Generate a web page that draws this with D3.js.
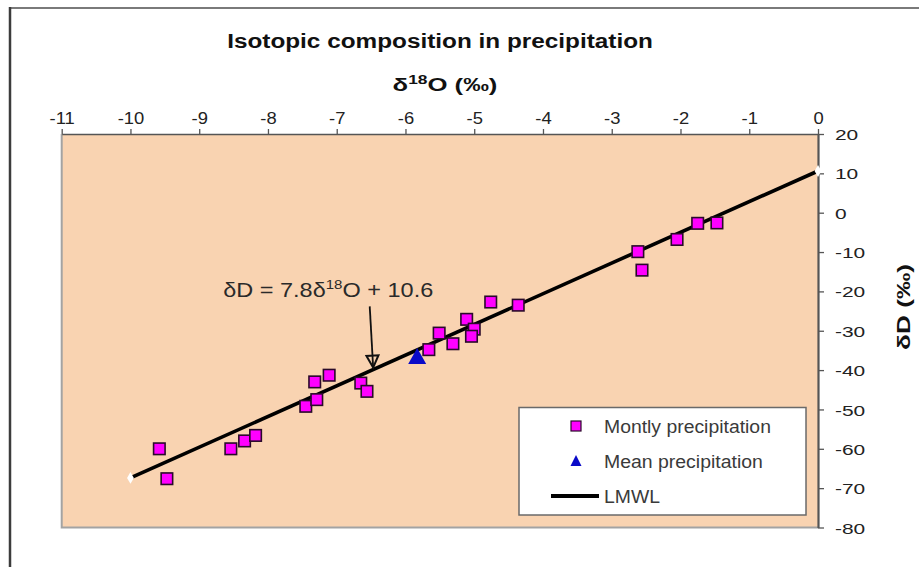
<!DOCTYPE html>
<html>
<head>
<meta charset="utf-8">
<script src="https://cdn.jsdelivr.net/npm/d3@7"></script>
<style>
  body { margin: 0; background: #fff; }
  svg { display: block; font-family: "Liberation Sans", Arial, sans-serif; }
</style>
</head>
<body>
<svg id="chart" width="919" height="567"></svg>
<script>
// Axis ticks
const xTicks = [-11, -10, -9, -8, -7, -6, -5, -4, -3, -2, -1, 0];
const yTicks = [20, 10, 0, -10, -20, -30, -40, -50, -60, -70, -80];

// Monthly precipitation samples (δ18O, δD in ‰)
const monthlyO18 = [-9.58, -9.47, -8.54, -8.34, -8.18, -7.45, -7.29, -7.32, -7.11, -6.65, -6.56,
                    -5.66, -5.51, -5.31, -5.11, -5.00, -5.04, -4.76, -4.36, -2.62, -2.56, -2.05, -1.75, -1.47];
const monthlyD   = [-60.0, -67.6, -60.0, -58.0, -56.6, -49.2, -47.5, -43.0, -41.3, -43.3, -45.4,
                    -34.8, -30.6, -33.3, -27.1, -29.6, -31.4, -22.7, -23.5, -9.9, -14.6, -6.8, -2.7, -2.6];

// Weighted mean of precipitation
const meanO18 = [-5.83];
const meanD   = [-36.7];

// Local meteoric water line: δD = 7.8 δ18O + 10.6
const lmwlSlope = 7.8;
const lmwlIntercept = 10.6;
const lmwlO18 = [-10, 0];

const legendLabels = ["Montly precipitation", "Mean precipitation", "LMWL"];

const svg = d3.select("#chart");

// Outer chart frame
svg.append("line").attr("x1", 10).attr("y1", 8).attr("x2", 919).attr("y2", 8)
  .attr("stroke", "#7a7a7a").attr("stroke-width", 2);
svg.append("line").attr("x1", 10).attr("y1", 7).attr("x2", 10).attr("y2", 567)
  .attr("stroke", "#3c3c3c").attr("stroke-width", 2.5);

const pLeft = 61.7, pRight = 818, pTop = 134, pBottom = 527.5;
const x = d3.scaleLinear().domain([-11, 0]).range([pLeft, pRight]);
const y = d3.scaleLinear().domain([-80, 20]).range([pBottom, pTop]);

// Plot area
svg.append("rect").attr("x", pLeft).attr("y", pTop)
  .attr("width", pRight - pLeft).attr("height", pBottom - pTop)
  .attr("fill", "#f9d3b1");
svg.append("path")
  .attr("d", `M${pLeft},${pTop} V${pBottom} H${pRight}`)
  .attr("fill", "none").attr("stroke", "#a3a3a3").attr("stroke-width", 2);

// Stretch a text node horizontally to a given width about an anchor x
function fitWidth(sel, width, ax) {
  const w = sel.node().getBBox().width;
  const s = width / w;
  sel.attr("transform", `translate(${ax},0) scale(${s},1) translate(${-ax},0)`);
}

// Tick labels use a plain hyphen for negatives
const tickFmt = d => String(d);

// Top axis: δ18O
const xAxis = svg.append("g").attr("transform", `translate(0,${pTop})`)
  .call(d3.axisTop(x).tickValues(xTicks).tickFormat(tickFmt).tickSize(5).tickPadding(5).tickSizeOuter(0));
xAxis.select(".domain").attr("stroke", "#555").attr("stroke-width", 1.6);
xAxis.selectAll(".tick line").attr("stroke", "#555").attr("stroke-width", 1.3);
xAxis.selectAll(".tick text").attr("font-size", 16).attr("fill", "#222")
  .attr("font-family", "Liberation Sans, Arial, sans-serif")
  .attr("transform", "scale(1.15,1)");

// Right axis: δD
const yAxis = svg.append("g").attr("transform", `translate(${pRight},0)`)
  .call(d3.axisRight(y).tickValues(yTicks).tickFormat(tickFmt).tickSize(6).tickPadding(11).tickSizeOuter(0));
yAxis.select(".domain").attr("stroke", "#555").attr("stroke-width", 2.2);
yAxis.selectAll(".tick line").attr("stroke", "#555").attr("stroke-width", 1.3);
yAxis.selectAll(".tick text").attr("font-size", 15.5).attr("fill", "#222")
  .attr("font-family", "Liberation Sans, Arial, sans-serif")
  .attr("dy", "0.36em")
  .each(function () {
    const t = d3.select(this);
    fitWidth(t, this.getBBox().width * 1.35, 17);
  });

// Title
const title = svg.append("text").attr("x", 440).attr("y", 48)
  .attr("text-anchor", "middle").attr("font-size", 21).attr("font-weight", "bold")
  .attr("fill", "#111").text("Isotopic composition in precipitation");
fitWidth(title, 426, 440);

// Top axis title
const xt = svg.append("text").attr("x", 445).attr("y", 91)
  .attr("text-anchor", "middle").attr("font-size", 18.5).attr("font-weight", "bold").attr("fill", "#111");
xt.append("tspan").text("δ");
xt.append("tspan").attr("font-size", 12.5).attr("dy", -7).text("18");
xt.append("tspan").attr("dy", 7).text("O (‰)");
fitWidth(xt, 105, 445);

// Right axis title
const yt = svg.append("text").attr("transform", "translate(910,307) rotate(-90)")
  .attr("text-anchor", "middle").attr("font-size", 18.5).attr("font-weight", "bold").attr("fill", "#111");
yt.append("tspan").text("δD (‰)");
{
  const w = yt.node().getBBox().width;
  yt.attr("transform", `translate(910,307) rotate(-90) scale(${86 / w},1)`);
}

// LMWL line
const lmwl = lmwlO18.map(o => ({ o, d: lmwlSlope * o + lmwlIntercept }));
svg.append("path").datum(lmwl)
  .attr("d", d3.line().x(p => x(p.o)).y(p => y(p.d)))
  .attr("fill", "none").attr("stroke", "#000").attr("stroke-width", 3.6);
svg.selectAll(".lmwl-end").data(lmwl).join("path").attr("class", "lmwl-end")
  .attr("transform", p => `translate(${x(p.o)},${y(p.d)})`)
  .attr("d", d3.symbol(d3.symbolDiamond, 40))
  .attr("fill", "#fff");

// Monthly precipitation
const sq = 11.5;
svg.selectAll(".monthly").data(monthlyO18.map((o, i) => ({ o, d: monthlyD[i] })))
  .join("rect").attr("class", "monthly")
  .attr("x", p => x(p.o) - sq / 2).attr("y", p => y(p.d) - sq / 2)
  .attr("width", sq).attr("height", sq)
  .attr("fill", "#ff00ff").attr("stroke", "#2a0a2a").attr("stroke-width", 1.6);

// Mean precipitation
svg.selectAll(".mean").data(meanO18.map((o, i) => ({ o, d: meanD[i] })))
  .join("path").attr("class", "mean")
  .attr("transform", p => `translate(${x(p.o)},${y(p.d)})`)
  .attr("d", "M0,-9 L9,7 L-9,7 Z")
  .attr("fill", "#0a0ac8");

// Equation annotation with arrow to the line
const annO18 = -8.65, annD = -21.5;
const ann = svg.append("text").attr("x", x(annO18)).attr("y", y(annD))
  .attr("font-size", 19.5).attr("fill", "#2a2a2a");
ann.append("tspan").text("δD = 7.8δ");
ann.append("tspan").attr("font-size", 12.5).attr("dy", -8).text("18");
ann.append("tspan").attr("dy", 8).text("O + 10.6");
fitWidth(ann, 210, x(annO18));

const arrowTailO = -6.52, arrowTailD = -23.8, arrowTipO = -6.47;
const tip = [x(arrowTipO), y(lmwlSlope * arrowTipO + lmwlIntercept) - 2];
const tail = [x(arrowTailO), y(arrowTailD)];
svg.append("line").attr("x1", tail[0]).attr("y1", tail[1]).attr("x2", tip[0]).attr("y2", tip[1])
  .attr("stroke", "#111").attr("stroke-width", 1.8);
{
  const ang = Math.atan2(tip[1] - tail[1], tip[0] - tail[0]);
  const L = 12, W = 6;
  const bx = tip[0] - L * Math.cos(ang), by = tip[1] - L * Math.sin(ang);
  const px = -Math.sin(ang) * W, py = Math.cos(ang) * W;
  svg.append("path")
    .attr("d", `M${bx + px},${by + py} L${tip[0]},${tip[1]} L${bx - px},${by - py} Z`)
    .attr("fill", "none").attr("stroke", "#111").attr("stroke-width", 2).attr("stroke-linejoin", "miter");
}

// Legend
const lg = svg.append("g");
lg.append("rect").attr("x", 519).attr("y", 407.5).attr("width", 287).attr("height", 107.5)
  .attr("fill", "#fff").attr("stroke", "#6a6a6a").attr("stroke-width", 1.5);
const rowY = [426, 461, 496];
const textW = [167, 159, 56];
legendLabels.forEach((lab, i) => {
  const t = lg.append("text").attr("x", 604).attr("y", rowY[i]).attr("dy", "0.36em")
    .attr("font-size", 18.5).attr("fill", "#3a3a3a").text(lab);
  fitWidth(t, textW[i], 604);
});
lg.append("rect").attr("x", 571).attr("y", rowY[0] - 5).attr("width", 10).attr("height", 10)
  .attr("fill", "#ff00ff").attr("stroke", "#2a0a2a").attr("stroke-width", 1.2);
lg.append("path").attr("transform", `translate(576,${rowY[1]})`)
  .attr("d", "M0,-6 L5.5,5 L-5.5,5 Z").attr("fill", "#0a0ac8");
lg.append("line").attr("x1", 551).attr("x2", 599).attr("y1", rowY[2]).attr("y2", rowY[2])
  .attr("stroke", "#000").attr("stroke-width", 4);
</script>
</body>
</html>
